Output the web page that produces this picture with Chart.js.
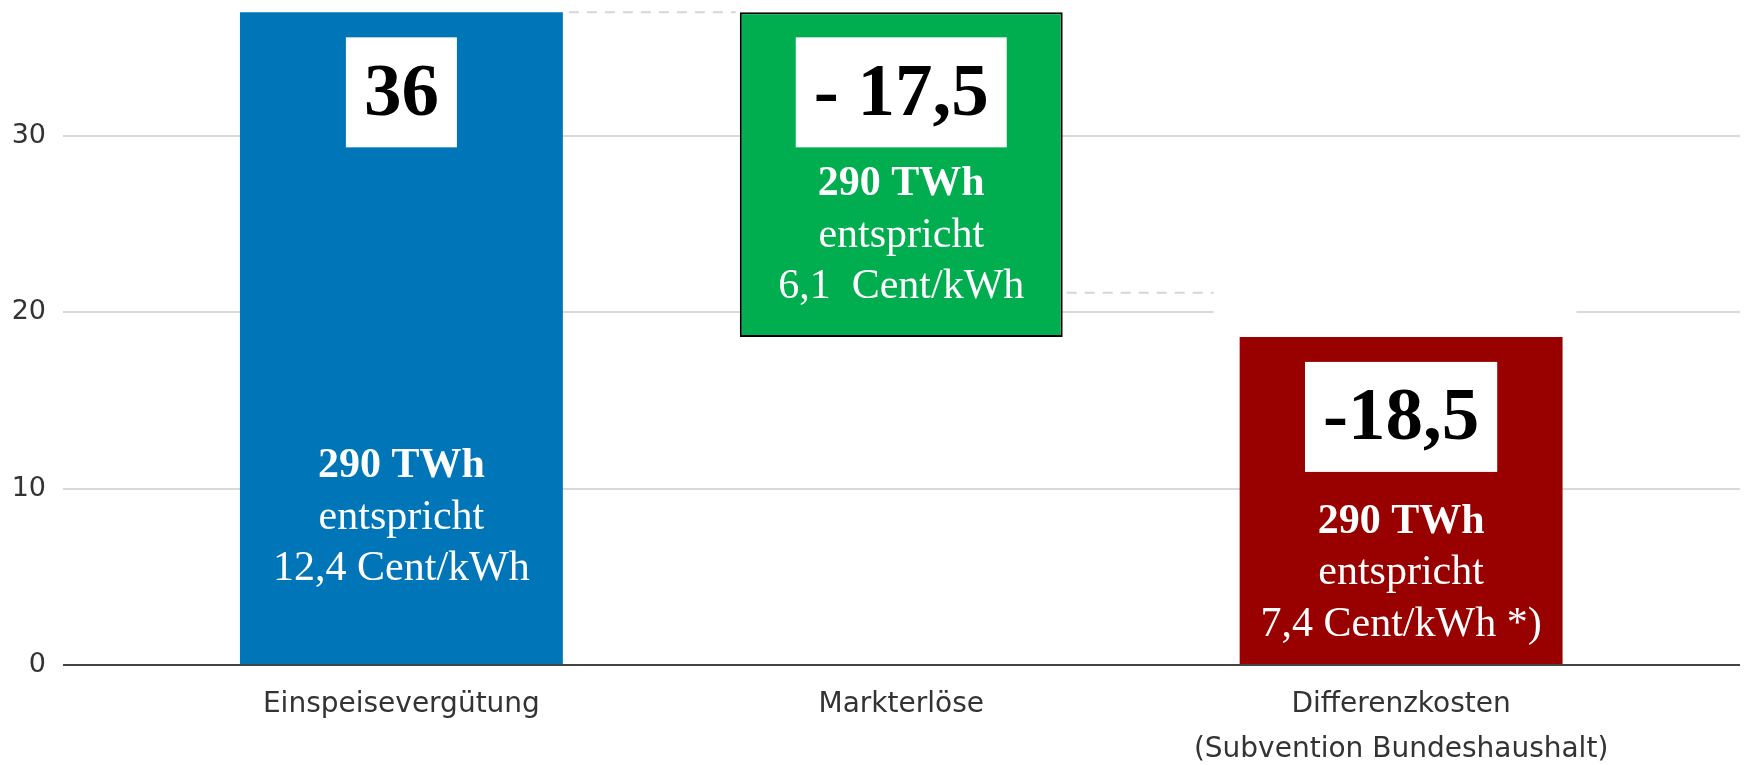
<!DOCTYPE html>
<html>
<head>
<meta charset="utf-8">
<script src="https://cdn.jsdelivr.net/npm/chart.js@4"></script>
<style>
  body { margin: 0; background: #fff; }
</style>
</head>
<body>
<canvas id="chart" width="1746" height="765"></canvas>
<script>
// data
const categories = [['Einspeisevergütung'], ['Markterlöse'], ['Differenzkosten', '(Subvention Bundeshaushalt)']];
const xPos = [0, 1, 2];
const barValues = [37, [18.6, 37], 18.6];
const bigLabels = ['36', '- 17,5', '-18,5'];
const textLines = [
  ['290 TWh', 'entspricht', '12,4 Cent/kWh'],
  ['290 TWh', 'entspricht', '6,1  Cent/kWh'],
  ['290 TWh', 'entspricht', '7,4 Cent/kWh *)']
];
const connectorValues = [37, 21.1];
const yTicks = [0, 10, 20, 30];

const barColors = ['#0076B8', '#00AE4F', '#990000'];

// white boxes with big numbers and the text below them
const overlayPlugin = {
  id: 'overlay',
  beforeDatasetsDraw(chart) {
    // white patch that hides the 20 gridline next to the red bar
    const ctx = chart.ctx;
    const y = chart.scales.y;
    const bar = chart.getDatasetMeta(0).data[2];
    ctx.save();
    ctx.fillStyle = '#fff';
    const top = y.getPixelForValue(21.5);
    const bottom = y.getPixelForValue(19.2);
    ctx.fillRect(bar.x - bar.width / 2 - 26, top, bar.width + 40, bottom - top);
    ctx.restore();
  },
  afterDatasetsDraw(chart) {
    const ctx = chart.ctx;
    const y = chart.scales.y;
    const bars = chart.getDatasetMeta(0).data;
    ctx.save();

    // dashed connectors
    ctx.strokeStyle = '#d6d6d6';
    ctx.lineWidth = 2;
    ctx.setLineDash([10, 8]);
    let py = y.getPixelForValue(connectorValues[0]);
    ctx.beginPath();
    ctx.moveTo(bars[0].x + bars[0].width / 2 + 6, py);
    ctx.lineTo(bars[1].x - bars[1].width / 2 - 4, py);
    ctx.stroke();
    py = y.getPixelForValue(connectorValues[1]);
    ctx.beginPath();
    ctx.moveTo(bars[1].x + bars[1].width / 2 + 4, py);
    ctx.lineTo(bars[2].x - bars[2].width / 2 - 26, py);
    ctx.stroke();
    ctx.setLineDash([]);

    const textStart = [454, 172, 185];
    bars.forEach((b, i) => {
      const barTop = Math.min(b.y, b.base);
      // number box
      ctx.font = 'bold 75px "Liberation Serif", "Times New Roman", serif';
      const w = ctx.measureText(bigLabels[i]).width + 36;
      const boxTop = barTop + 25;
      ctx.fillStyle = '#fff';
      ctx.fillRect(b.x - w / 2, boxTop, w, 110);
      ctx.fillStyle = '#000';
      ctx.textAlign = 'center';
      ctx.textBaseline = 'middle';
      ctx.fillText(bigLabels[i], b.x, boxTop + 58);
      // white text lines
      ctx.fillStyle = '#fff';
      textLines[i].forEach((line, j) => {
        ctx.font = (j === 0 ? 'bold ' : '') + '42px "Liberation Serif", "Times New Roman", serif';
        ctx.fillText(line, b.x, barTop + textStart[i] + j * 51.5);
      });
    });
    ctx.restore();
  }
};

new Chart(document.getElementById('chart'), {
  type: 'bar',
  data: {
    datasets: [{
      data: xPos.map((x, i) => ({ x: x, y: barValues[i] })),
      backgroundColor: barColors,
      borderColor: ['#0076B8', '#000', '#990000'],
      borderWidth: [0, 2, 0],
      borderSkipped: false,
      categoryPercentage: 0.646,
      barPercentage: 1
    }]
  },
  options: {
    responsive: false,
    animation: false,
    devicePixelRatio: 1,
    layout: { padding: { top: 0, right: 6, left: 0, bottom: 0 } },
    plugins: {
      legend: { display: false },
      tooltip: { enabled: false }
    },
    scales: {
      x: {
        type: 'linear',
        offset: false,
        min: -0.677,
        max: 2.678,
        grid: { display: false, offset: false },
        border: { display: false },
        afterBuildTicks: s => { s.ticks = xPos.map(v => ({ value: v })); },
        afterFit: s => { s.height = 100; s.paddingLeft = 0; s.paddingRight = 0; },
        ticks: {
          autoSkip: false,
          maxRotation: 0,
          padding: 10,
          color: '#333',
          font: { family: '"DejaVu Sans", Verdana, sans-serif', size: 28, lineHeight: 1.58 },
          callback: (v, i) => categories[i]
        }
      },
      y: {
        min: 0,
        max: 37.7,
        border: { display: false },
        grid: {
          drawTicks: false,
          lineWidth: 2,
          color: c => c.tick && c.tick.value === 0 ? '#444' : '#d9d9d9'
        },
        afterBuildTicks: s => { s.ticks = yTicks.map(v => ({ value: v })); },
        afterFit: s => { s.width = 63; s.paddingTop = 0; s.paddingBottom = 0; },
        ticks: {
          padding: 17,
          color: '#333',
          font: { family: '"DejaVu Sans", Verdana, sans-serif', size: 27 }
        }
      }
    }
  },
  plugins: [overlayPlugin]
});
</script>
</body>
</html>
